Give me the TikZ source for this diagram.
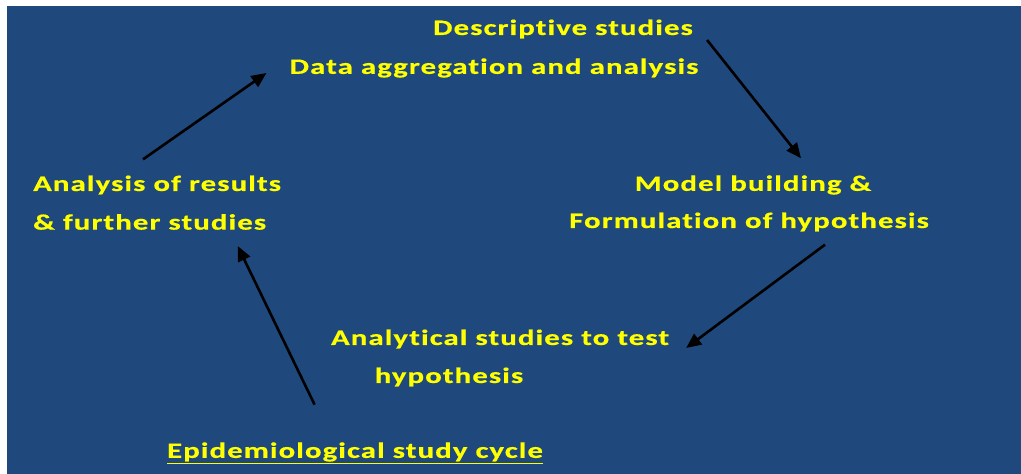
\documentclass[tikz,border=0pt]{standalone}
\usepackage{fontspec}
\newfontfamily\cyclefont{Carlito}[FakeStretch=1.4, LetterSpace=5, FakeBold=0.6, Ligatures=NoCommon]
\usetikzlibrary{arrows.meta, calc}
\definecolor{slidebg}{RGB}{31,72,124}
\definecolor{slidetext}{RGB}{255,255,0}
\tikzset{
    cycle-text/.style={
        text=slidetext, inner sep=0pt, font=\cyclefont\bfseries\fontsize{22}{26}\selectfont
    },
    cycle-arrow/.style={
        draw=black, line width=2.6pt, -{Triangle[length=15pt,width=13pt]}
    },
}

\begin{document}
\begin{tikzpicture}[x=1pt, y=-1pt]

        % BACKGROUND
        \useasboundingbox (0,0) rectangle (1021,474);
        \fill[slidebg] (7,6) rectangle (1021,474);

        % TOP BLOCK
        \node[cycle-text]         (DESC)   at (563,29)  {Descriptive studies};
        \node[cycle-text]         (AGGR)   at (494,68)  {Data aggregation and analysis};

        % RIGHT BLOCK
        \node[cycle-text]         (MODEL)  at (753,185) {Model building \&};
        \node[cycle-text]         (HYPO)   at (749,222) {Formulation of hypothesis};

        % BOTTOM BLOCK
        \node[cycle-text]         (ANTEST) at (500,339) {Analytical studies to test};
        \node[cycle-text]         (ANHYP)  at (449,377) {hypothesis};

        % LEFT BLOCK
        \node[cycle-text, anchor=west] (RES)     at (33,185)  {Analysis of results};
        \node[cycle-text, anchor=west] (FURTHER) at (33,222)  {\& further studies};

        % TITLE
        \node[cycle-text]         (TITLE)  at (355,453) {\underline{Epidemiological study cycle}};

        % ARROW END POINTS
        \coordinate (A1S) at ($(DESC.east)  + (14,11)$);
        \coordinate (A1E) at ($(MODEL.north) + (48,-17)$);
        \coordinate (A2S) at ($(HYPO.south) + (76,13)$);
        \coordinate (A2E) at ($(ANTEST.east) + (17,9)$);
        \coordinate (A3S) at ($(ANHYP.south west) + (-60,18)$);
        \coordinate (A3E) at ($(FURTHER.south) + (88,16)$);
        \coordinate (A4S) at ($(RES.north west) + (110,-16)$);
        \coordinate (A4E) at ($(AGGR.west) + (-23,5)$);

        % ARROWS
        \draw[cycle-arrow] (A1S) -- (A1E);
        \draw[cycle-arrow] (A2S) -- (A2E);
        \draw[cycle-arrow] (A3S) -- (A3E);
        \draw[cycle-arrow] (A4S) -- (A4E);

\end{tikzpicture}
\end{document}
